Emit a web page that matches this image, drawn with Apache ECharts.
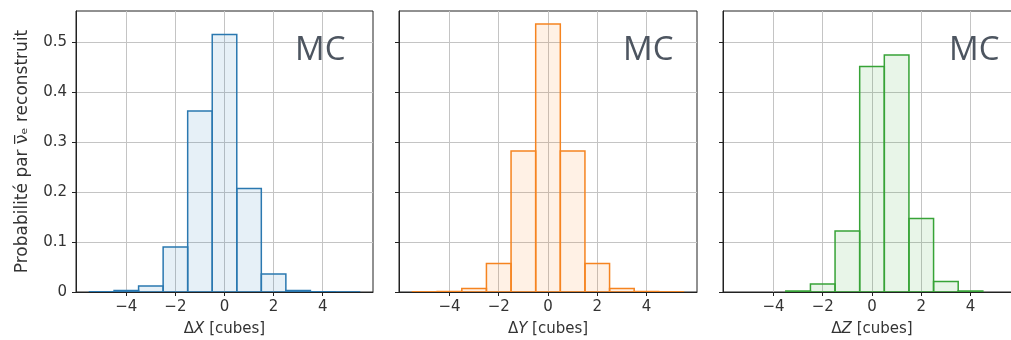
<!DOCTYPE html>
<html><head><meta charset="utf-8">
<script src="https://cdn.jsdelivr.net/npm/echarts@6/dist/echarts.min.js"></script>
<style>html,body{margin:0;padding:0;background:#fff}#c{width:1011px;height:340px}</style>
</head><body><div id="c"></div>
<script>
const binCenters = [-5,-4,-3,-2,-1,0,1,2,3,4,5];
const probX = [0.0005,0.003,0.012,0.090,0.362,0.515,0.207,0.036,0.003,0.0005,0.0002];
const probY = [0.0003,0.001,0.007,0.057,0.282,0.536,0.282,0.057,0.007,0.001,0.0003];
const probZ = [0,0,0.002,0.016,0.122,0.451,0.474,0.147,0.021,0.002,0];
const xTicks = [-4,-2,0,2,4];
const yTicks = [0,0.1,0.2,0.3,0.4,0.5];
const axisNames = ['X','Y','Z'];
const panelLabel = 'MC';
const yName = 'Probabilité par ν̅ₑ reconstruit';

const colors = ['#2a78b0','#f58420','#37a337'];
const fills = ['rgba(31,119,180,0.11)','rgba(255,127,14,0.11)','rgba(44,160,44,0.11)'];
const FONT = 'DejaVu Sans';
const grids = [
  {left:76, top:11, width:297, height:281},
  {left:399, top:11, width:298, height:281},
  {left:723, top:11, width:298, height:281}
];
const series = [probX, probY, probZ];

function fmtX(v){ return v < 0 ? '\u2212' + Math.abs(v) : String(v); }
function fmtY(v){ return v === 0 ? '0' : v.toFixed(1); }

function makeRender(i){
  return function(params, api){
    const c = api.value(0), v = api.value(1);
    if (!(v > 0)) return null;
    const p0 = api.coord([c - 0.5, v]);
    const p1 = api.coord([c + 0.5, 0]);
    return {type:'rect', shape:{x:p0[0], y:p0[1], width:p1[0]-p0[0], height:p1[1]-p0[1]},
      style:{fill:fills[i], stroke:colors[i], lineWidth:1.5}};
  };
}

const option = {
  animation:false,
  backgroundColor:'#fff',
  grid: grids.map(g => Object.assign({show:true, borderColor:'#222', borderWidth:1, backgroundColor:'transparent',
    containLabel:false, outerBoundsMode:'none'}, g)),
  xAxis: grids.map((g,i) => ({
    type:'value', gridIndex:i, min:-6.05, max:6.05,
    name:'{n|Δ}{i|' + axisNames[i] + '}{n| [cubes]}', nameLocation:'middle', nameGap:30,
    nameTextStyle:{rich:{n:{fontFamily:FONT,fontSize:15,color:'#333'}, i:{fontFamily:FONT,fontSize:15,fontStyle:'italic',color:'#333'}}},
    axisLine:{show:true, onZero:false, lineStyle:{color:'#222', width:1}},
    axisTick:{show:true, inside:false, length:4, customValues:xTicks, lineStyle:{color:'#222'}},
    axisLabel:{show:true, customValues:xTicks, formatter:fmtX, fontFamily:FONT, fontSize:15, color:'#333', margin:8},
    splitLine:{show:true, lineStyle:{color:'#c4c4c4', width:1}}
  })),
  yAxis: grids.map((g,i) => ({
    type:'value', gridIndex:i, min:0, max:0.562,
    name: i === 0 ? yName : '', nameLocation:'middle', nameGap:45,
    nameTextStyle:{fontFamily:FONT, fontSize:17, color:'#333'},
    axisLine:{show:true, onZero:false, lineStyle:{color:'#222', width:1}},
    axisTick:{show:true, inside:false, length:4, customValues:yTicks, lineStyle:{color:'#222'}},
    axisLabel:{show:i === 0, customValues:yTicks, formatter:fmtY, fontFamily:FONT, fontSize:15, color:'#333', margin:9},
    splitLine:{show:true, lineStyle:{color:'#c4c4c4', width:1}}
  })),
  series: series.map((d,i) => ({
    type:'custom', xAxisIndex:i, yAxisIndex:i, clip:true,
    renderItem:makeRender(i),
    encode:{x:0, y:1},
    data: binCenters.map((c,k) => [c, d[k]])
  })),
  graphic: [321, 649, 975].map(cx => ({
    type:'text', left:cx - 26, top:34, z:10,
    style:{text:panelLabel, fontFamily:'Open Sans', fontSize:33, fill:'#4d5560'}
  }))
};
const chart = echarts.init(document.getElementById('c'), null, {renderer:'canvas'});
chart.setOption(option);
</script></body></html>
